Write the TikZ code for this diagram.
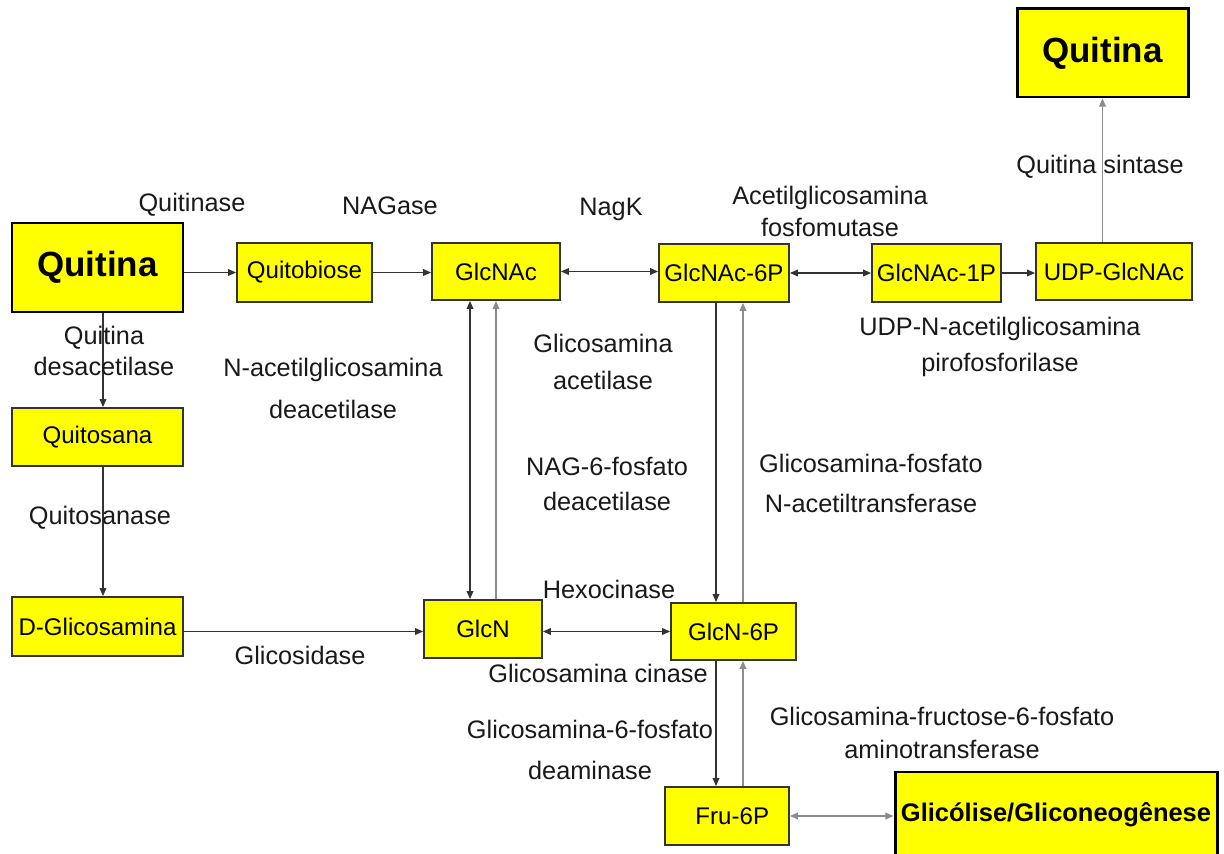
\documentclass[tikz,border=0pt]{standalone}
\usepackage{fontspec}
\setmainfont{Liberation Sans}
\usetikzlibrary{arrows.meta}
\definecolor{cyellow}{HTML}{FFFF00}
\definecolor{cline}{HTML}{333333}
\definecolor{cgrey}{HTML}{8C8C8C}

\begin{document}
\begin{tikzpicture}[x=0.02cm, y=-0.02cm, >={Triangle[length=4.6pt,width=3.8pt]},
  dims/.style 2 args={minimum width=#1*0.02cm, minimum height=#2*0.02cm},
  box/.style={draw=cline, line width=1pt, fill=cyellow, inner sep=0pt, font=\fontsize{13.7}{16}\selectfont},
  bigbox/.style={box, draw=black, line width=1.7pt},
  enz/.style={align=center, inner sep=0pt, text=black!90, font=\fontsize{14.4}{20.4}\selectfont},
  fwd/.style={draw=cline, line width=0.85pt, ->},
  both/.style={draw=cline, line width=0.85pt, <->},
  pale/.style={draw=cgrey}]
  \useasboundingbox (0,0) rectangle (1224,854);
  \clip (0,0) rectangle (1224,854);

  \node[bigbox, dims={171}{89}, font=\fontsize{19.9}{22}\selectfont\bfseries] (quitina) at (97.5,267.5) {Quitina\hspace{8pt}};
  \node[box, dims={135}{59}] (quitobiose) at (304.5,272.5) {Quitobiose};
  \node[box, dims={128}{57}] (glcnac) at (496,271.5) {GlcNAc};
  \node[box, dims={130}{58}] (glcnac6p) at (724,273) {GlcNAc-6P};
  \node[box, dims={129}{58}] (glcnac1p) at (936.5,273) {GlcNAc-1P};
  \node[box, dims={156}{57}] (udpglcnac) at (1114,271.5) {UDP-GlcNAc};
  \node[bigbox, dims={171}{88}, font=\fontsize{19.9}{22}\selectfont\bfseries] (quitinasint) at (1102.5,53) {Quitina};
  \node[box, dims={171}{58}] (quitosana) at (97.5,437) {Quitosana};
  \node[box, dims={171}{59}] (dglicosamina) at (97.5,626.5) {D-Glicosamina};
  \node[box, dims={118}{58}] (glcn) at (483,629) {GlcN};
  \node[box, dims={125}{57}] (glcn6p) at (733.5,631.5) {GlcN-6P};
  \node[box, dims={124}{58}] (fru6p) at (727,816) {\hspace{6pt}Fru-6P};
  \node[bigbox, dims={322}{86}, font=\fontsize{14.5}{17}\selectfont\bfseries] (glicolise) at (1056,815) {Glicólise/Gliconeogênese};

  \coordinate (xa) at (103,0);
  \coordinate (xb) at (470,0);
  \coordinate (xc) at (716,0);
  \coordinate (xd) at (743,0);

  \draw[fwd] (quitina.east |- quitobiose.west) -- (quitobiose.west);
  \draw[fwd] (quitobiose.east) -- (quitobiose.east -| glcnac.west);
  \draw[both] (glcnac.east) -- (glcnac.east -| glcnac6p.west);
  \draw[both] (glcnac6p.east) -- (glcnac6p.east -| glcnac1p.west);
  \draw[fwd] (glcnac1p.east) -- (glcnac1p.east -| udpglcnac.west);
  \draw[fwd, pale] (udpglcnac.north -| quitinasint.south) -- (quitinasint.south);
  \draw[fwd] (quitina.south -| xa) -- (quitosana.north -| xa);
  \draw[fwd] (quitosana.south -| xa) -- (dglicosamina.north -| xa);
  \draw[fwd] (dglicosamina.east |- glcn6p.west) -- (glcn6p.west -| glcn.west);
  \draw[both] (glcn.east |- glcn6p.west) -- (glcn6p.west);
  \draw[both] (glcnac.south -| xb) -- (glcn.north -| xb);
  \draw[fwd, pale] (glcn.north -| glcnac.south) -- (glcnac.south);
  \draw[fwd] (glcnac6p.south -| xc) -- (glcn6p.north -| xc);
  \draw[fwd, pale] (glcn6p.north -| xd) -- (glcnac6p.south -| xd);
  \draw[fwd] (glcn6p.south -| xc) -- (fru6p.north -| xc);
  \draw[fwd, pale] (fru6p.north -| xd) -- (glcn6p.south -| xd);
  \draw[both, pale] (fru6p.east) -- (fru6p.east -| glicolise.west);

  \node[enz] (quitinase) at (192,205) {Quitinase};
  \node[enz] (nagase) at (390,206) {NAGase};
  \node[enz] (nagk) at (611,209) {NagK};
  \node[enz] (fosfomutase) at (830,211.5) {Acetilglicosamina\\[-1.7pt]fosfomutase};
  \node[enz] (sintase) at (1100,167) {Quitina sintase};
  \node[enz] (pirofosforilase) at (1000,347) {UDP-N-acetilglicosamina\\pirofosforilase};
  \node[enz] (desacetilase) at (104,351) {Quitina\\[-2.3pt]desacetilase};
  \node[enz] (deacetilase) at (333,388.5) {N-acetilglicosamina\\[4pt]deacetilase};
  \node[enz] (acetilase) at (603,362) {Glicosamina\\[1.1pt]acetilase};
  \node[enz] (quitosanase) at (100,518) {Quitosanase};
  \node[enz] (nagdeacetilase) at (607,484) {NAG-6-fosfato\\deacetilase};
  \node[enz] (acetiltransferase) at (871,483.5) {Glicosamina-fosfato\\[2.8pt]N-acetiltransferase};
  \node[enz] (hexocinase) at (609,589) {Hexocinase};
  \node[enz] (glicosidase) at (300,655) {Glicosidase};
  \node[enz] (cinase) at (598,673) {Glicosamina cinase};
  \node[enz] (deaminase) at (590,750) {Glicosamina-6-fosfato\\[3.4pt]deaminase};
  \node[enz] (aminotransferase) at (942,733) {Glicosamina-fructose-6-fosfato\\[-1.1pt]aminotransferase};
\end{tikzpicture}
\end{document}
